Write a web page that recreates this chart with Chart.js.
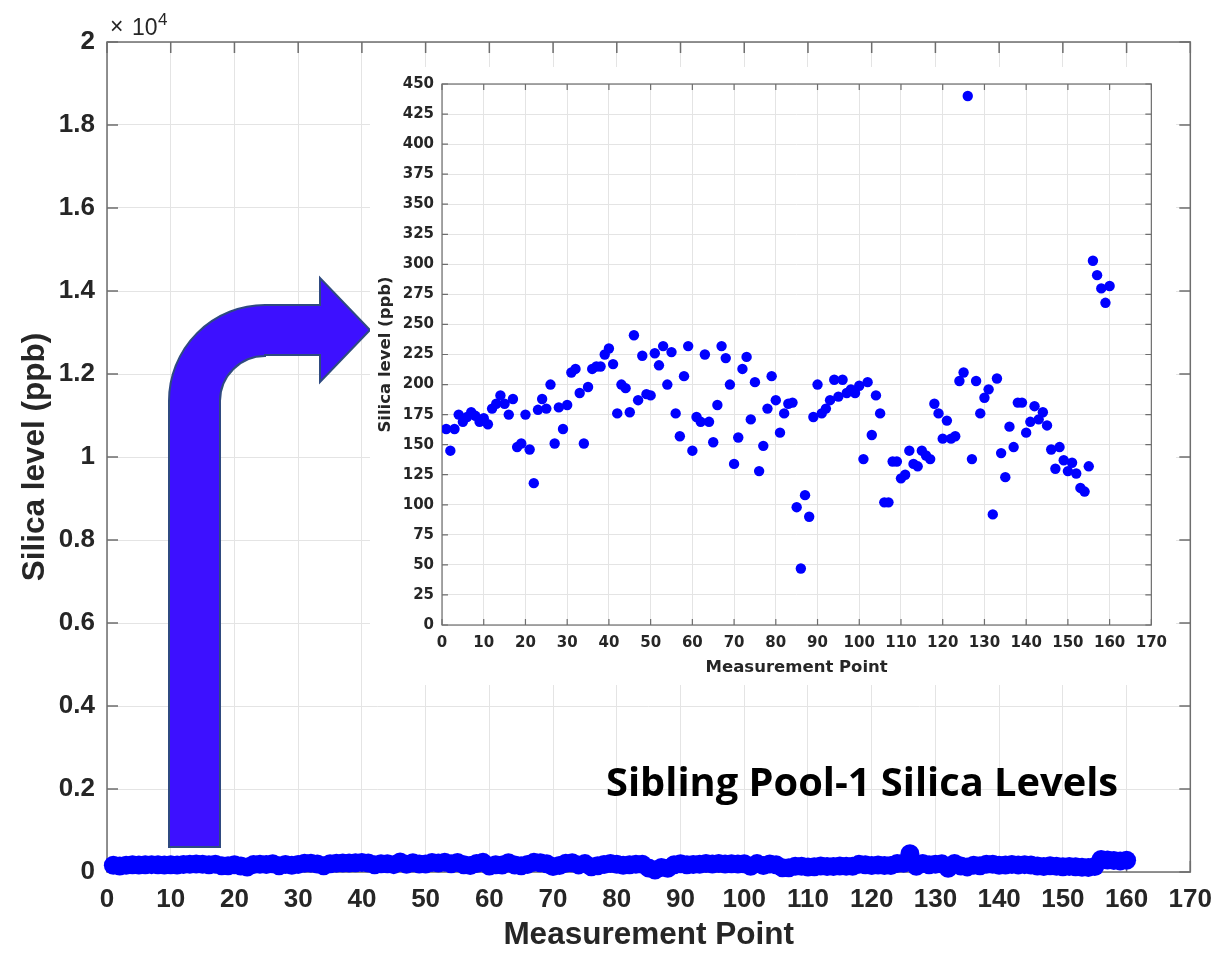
<!DOCTYPE html>
<html>
<head>
<meta charset="utf-8">
<script src="https://cdn.jsdelivr.net/npm/chart.js@4/dist/chart.umd.min.js"></script>
<style>
  html, body { margin: 0; padding: 0; background: #fff; }
  #wrap { position: relative; width: 1224px; height: 954px; }
  #main { position: absolute; left: 0; top: 0; }
  #inset { position: absolute; left: 370px; top: 67px; background: #fff; }
  #title {
    position: absolute; left: 606px; top: 764px; white-space: nowrap;
    font-family: "Open Sans", Lato, sans-serif; font-weight: bold; font-size: 36px; line-height: 1; color: #000;
  }
</style>
</head>
<body>
<div id="wrap">
  <canvas id="main" width="1224" height="954"></canvas>
  <canvas id="inset" width="806" height="618"></canvas>
  <div id="title">Sibling Pool-1 Silica Levels</div>
</div>
<script>
'use strict';

// measurement points 1..160, silica in ppb
const points = Array.from({ length: 160 }, (_, i) => i + 1);
const silica = [
  163,145,163,175,169,173,177,174,169,172,
  167,180,184,191,184,175,188,148,151,175,
  146,118,179,188,180,200,151,181,163,183,
  210,213,193,151,198,213,215,215,225,230,
  217,176,200,197,177,241,187,224,192,191,
  226,216,232,200,227,176,157,207,232,145,
  173,169,225,169,152,183,232,222,200,134,
  156,213,223,171,202,128,149,180,207,187,
  160,176,184,185,98,47,108,90,173,200,
  176,180,187,204,190,204,193,196,193,199,
  138,202,158,191,176,102,102,136,136,122,
  125,145,134,132,145,141,138,184,176,155,
  170,155,157,203,210,440,138,203,176,189,
  196,92,205,143,123,165,148,185,185,160,
  169,182,171,177,166,146,130,148,137,128,
  135,126,114,111,132,303,291,280,268,282,
];
const xTicks      = { min: 0, max: 170, step: 10 };
const mainYTicks  = { min: 0, max: 20000, step: 2000 };
const insetYTicks = { min: 0, max: 450, step: 25 };

const xy = points.map((p, i) => ({ x: p, y: silica[i] }));

const INK = '#262626', GRID = '#e4e4e4', BOX = '#6e6e6e', BLUE = '#0000ff';

// fit the headline to the width it has in the slide (606..1118), baseline ~796
(function fitTitle() {
  const el = document.getElementById('title');
  const c = document.createElement('canvas').getContext('2d');
  c.font = 'bold 100px "Open Sans", Lato, sans-serif';
  const size = 100 * 512 / c.measureText(el.textContent).width;
  el.style.fontSize = size.toFixed(1) + 'px';
  el.style.top = (796 - 0.888 * size).toFixed(1) + 'px';
})();

// MATLAB-style box with inward ticks on all four sides
const boxTicks = {
  id: 'boxTicks',
  beforeDatasetsDraw(chart, args, o) {
    const { ctx, chartArea: a, scales: { x, y } } = chart;
    ctx.save();
    ctx.strokeStyle = o.color; ctx.lineWidth = o.width;
    ctx.beginPath();
    x.ticks.forEach(t => {
      const px = x.getPixelForValue(t.value);
      ctx.moveTo(px, a.bottom); ctx.lineTo(px, a.bottom - o.len);
      ctx.moveTo(px, a.top);    ctx.lineTo(px, a.top + o.len);
    });
    y.ticks.forEach(t => {
      const py = y.getPixelForValue(t.value);
      ctx.moveTo(a.left, py);  ctx.lineTo(a.left + o.len, py);
      ctx.moveTo(a.right, py); ctx.lineTo(a.right - o.len, py);
    });
    ctx.stroke();
    ctx.strokeRect(a.left, a.top, a.right - a.left, a.bottom - a.top);
    ctx.restore();
  }
};

// exponent label + bent arrow pointing to the zoomed inset
const mainDecor = {
  id: 'mainDecor',
  afterDraw(chart) {
    const { ctx, chartArea: a } = chart;
    ctx.save();
    ctx.fillStyle = INK;
    ctx.textBaseline = 'alphabetic';
    ctx.font = '23px "Liberation Sans", Arial, sans-serif';
    ctx.fillText('\u00d7', a.left + 3, a.top - 8);
    ctx.fillText('10', a.left + 25, a.top - 7);
    ctx.font = '17px "Liberation Sans", Arial, sans-serif';
    ctx.fillText('4', a.left + 51, a.top - 17);

    // arrow
    const L = 169, R = 220, B = 847, T = 305, H = 355, cx = 265, cy = 401;
    ctx.beginPath();
    ctx.moveTo(L, B);
    ctx.lineTo(L, cy);
    ctx.arc(cx, cy, cx - L, Math.PI, 1.5 * Math.PI);
    ctx.lineTo(320, T);
    ctx.lineTo(320, 278);
    ctx.lineTo(370, 330);
    ctx.lineTo(320, 382);
    ctx.lineTo(320, H);
    ctx.lineTo(cx, H);
    ctx.arc(cx, cy, cx - R, 1.5 * Math.PI, Math.PI, true);
    ctx.lineTo(R, B);
    ctx.closePath();
    ctx.fillStyle = '#3d10ff';
    ctx.fill();
    ctx.strokeStyle = '#2f4a80';
    ctx.lineWidth = 2;
    ctx.stroke();
    ctx.restore();
  }
};

const bold = (size, family) => ({ family, size, weight: 'bold' });
const ARIAL = '"Liberation Sans", Arial, sans-serif';
const DEJA = '"DejaVu Sans", sans-serif';

// ── Main chart ─────────────────────────────────────────────────────────────
new Chart(document.getElementById('main'), {
  type: 'scatter',
  data: { datasets: [{ data: xy, backgroundColor: BLUE, borderColor: BLUE, borderWidth: 0,
    pointRadius: 9.5, pointHoverRadius: 9.5, clip: false }] },
  options: {
    responsive: false, animation: false, events: [],
    layout: { padding: { left: 0, top: 42, right: 24, bottom: 0 } },
    plugins: { legend: { display: false }, tooltip: { enabled: false },
      boxTicks: { color: BOX, width: 1.5, len: 11 } },
    scales: {
      x: {
        type: 'linear', min: xTicks.min, max: xTicks.max,
        ticks: { stepSize: xTicks.step, padding: 12, color: INK, font: bold(26, ARIAL), maxRotation: 0, autoSkip: false },
        grid: { color: GRID, drawTicks: false }, border: { display: false },
        title: { display: true, text: 'Measurement Point', color: INK, font: bold(31.5, ARIAL), padding: { top: 0, bottom: 0 } },
        afterFit: s => { s.height = 82; },
      },
      y: {
        min: mainYTicks.min, max: mainYTicks.max,
        ticks: { stepSize: mainYTicks.step, padding: 12, color: INK, font: bold(26, ARIAL),
          callback: v => String(+(v / 1e4).toFixed(1)) },
        grid: { color: GRID, drawTicks: false }, border: { display: false },
        title: { display: true, text: 'Silica level (ppb)', color: INK, font: bold(31.5, ARIAL), padding: { top: 16, bottom: 0 } },
        afterFit: s => { s.width = 107; },
      },
    },
  },
  plugins: [boxTicks, mainDecor],
});

// ── Inset (zoomed) chart ───────────────────────────────────────────────────
new Chart(document.getElementById('inset'), {
  type: 'scatter',
  data: { datasets: [{ data: xy, backgroundColor: BLUE, borderColor: BLUE, borderWidth: 0,
    pointRadius: 5.2, pointHoverRadius: 5.2 }] },
  options: {
    responsive: false, animation: false, events: [],
    layout: { padding: { left: 0, top: 13, right: 18, bottom: 0 } },
    plugins: { legend: { display: false }, tooltip: { enabled: false },
      boxTicks: { color: BOX, width: 1.2, len: 6 } },
    scales: {
      x: {
        type: 'linear', min: xTicks.min, max: xTicks.max,
        ticks: { stepSize: xTicks.step, padding: 9, color: INK, font: bold(15, DEJA), maxRotation: 0, autoSkip: false },
        grid: { color: GRID, drawTicks: false }, border: { display: false },
        title: { display: true, text: 'Measurement Point', color: INK, font: bold(16.5, DEJA), padding: { top: 0, bottom: 7 } },
        afterFit: s => { s.height = 60; },
      },
      y: {
        min: insetYTicks.min, max: insetYTicks.max,
        ticks: { stepSize: insetYTicks.step, padding: 8, color: INK, font: bold(15, DEJA) },
        grid: { color: GRID, drawTicks: false }, border: { display: false },
        title: { display: true, text: 'Silica level (ppb)', color: INK, font: bold(16.5, DEJA), padding: { top: 6, bottom: 0 } },
        afterFit: s => { s.width = 72; },
      },
    },
  },
  plugins: [boxTicks],
});
</script>
</body>
</html>
